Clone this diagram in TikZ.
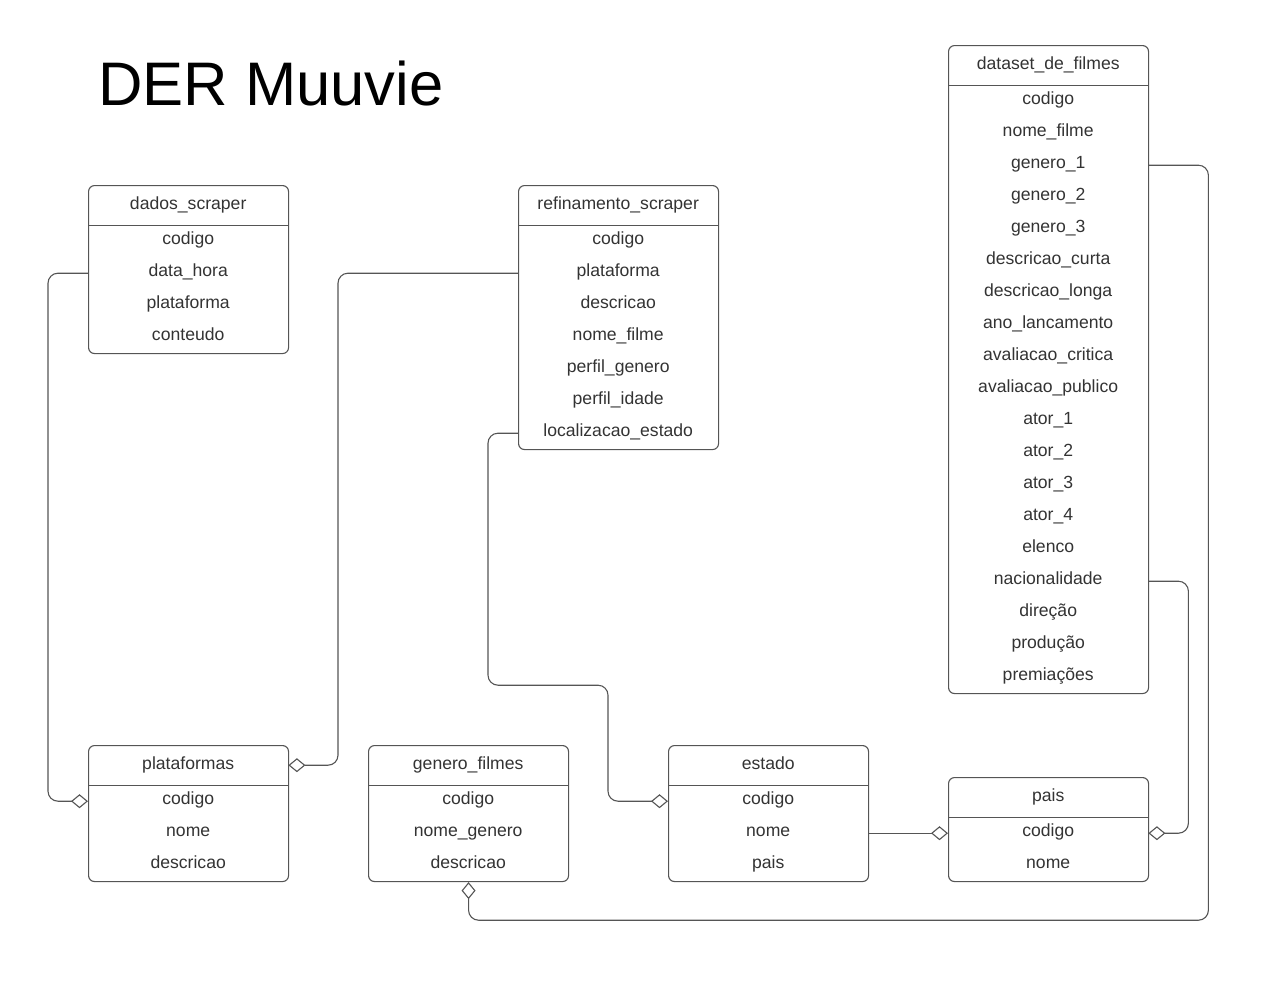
\documentclass[tikz,border=0pt]{standalone}
\usepackage{fontspec}
\setmainfont{Liberation Sans}
\usetikzlibrary{arrows.meta}
\definecolor{linec}{HTML}{555555}
\definecolor{textc}{HTML}{333333}
\tikzset{
  tbox/.style={draw=linec, line width=1.1pt, rounded corners=6pt, minimum width=200pt, inner sep=0pt, anchor=north west},
  tcell/.style={minimum width=200pt, inner sep=0pt, anchor=north west, text=textc, font=\fontsize{17.6}{21}\selectfont, text height=13pt},
  thead/.style={tcell, minimum height=40pt, text depth=4pt},
  trow/.style={tcell, minimum height=32pt, text depth=6pt},
  conn/.style={draw=linec, line width=1.1pt, rounded corners=10pt},
  agg/.style={conn, -{Diamond[open, length=17pt, width=14pt, fill=white]}},
}
% \ertable{name}{left}{top}{rows count}{title}{rows}
\newcommand{\ertable}[6]{%
  \node[tbox, minimum height={40+32*#4}] (#1) at (#2,#3) {};
  \node[thead] (#1-h) at (#2,#3) {#5};
  \draw[draw=linec, line width=1.1pt] (#1.west |- #1-h.south) -- (#1.east |- #1-h.south);
  \foreach \rowtext [count=\i] in {#6} {
    \node[trow] (#1-r\i) at (#2,{#3+40+32*(\i-1)}) {\rowtext};
  }
}
\begin{document}
\begin{tikzpicture}[x=1pt, y=-1pt]
  \useasboundingbox (0,0) rectangle (1272,983);
  \node[anchor=base west, inner sep=0pt, font=\fontsize{61.5}{70}\selectfont] (title) at (98,105) {DER Muuvie};

  \ertable{dados}{88}{185}{4}{dados\_scraper}{codigo,data\_hora,plataforma,conteudo}
  \ertable{ref}{518}{185}{7}{refinamento\_scraper}{codigo,plataforma,descricao,nome\_filme,perfil\_genero,perfil\_idade,localizacao\_estado}
  \ertable{ds}{948}{45}{19}{dataset\_de\_filmes}{codigo,nome\_filme,genero\_1,genero\_2,genero\_3,descricao\_curta,descricao\_longa,ano\_lancamento,avaliacao\_critica,avaliacao\_publico,ator\_1,ator\_2,ator\_3,ator\_4,elenco,nacionalidade,direção,produção,premiações}
  \ertable{plat}{88}{745}{3}{plataformas}{codigo,nome,descricao}
  \ertable{gen}{368}{745}{3}{genero\_filmes}{codigo,nome\_genero,descricao}
  \ertable{est}{668}{745}{3}{estado}{codigo,nome,pais}
  \ertable{pais}{948}{777}{2}{pais}{codigo,nome}

  \draw[agg] (dados-r2.west) -- ++(-40,0) |- (plat-r1.west);
  \draw[agg] (ref-r2.west) -- ++(-180,0) |- (plat-h.east);
  \draw[agg] (ref-r7.west) -- ++(-30,0) -- ++(0,252) -- ++(120,0) |- (est-r1.west);
  \draw[agg] (est-r2.east) -- (pais-r1.west);
  \draw[agg] (ds-r16.east) -- ++(40,0) |- (pais-r1.east);
  \draw[agg] (ds-r3.east) -- ++(60,0) -- ++(0,755) -| (gen.south);
\end{tikzpicture}
\end{document}
